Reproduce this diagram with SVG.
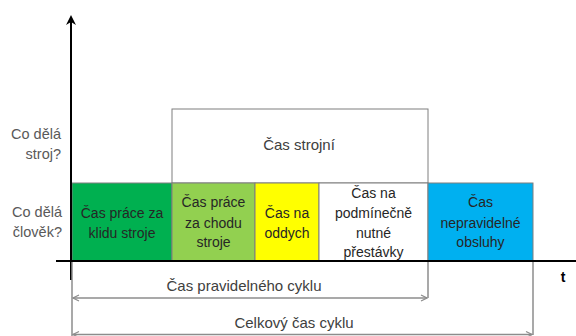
<svg xmlns="http://www.w3.org/2000/svg" width="576" height="336" viewBox="0 0 576 336">
<style>
.lbl{font-family:"Liberation Sans",Arial,sans-serif;font-size:14.5px;fill:#595959}
.bt{font-family:"Liberation Sans",Arial,sans-serif;font-size:14px;fill:#262626;text-anchor:middle}
.dt{font-family:"Liberation Sans",Arial,sans-serif;font-size:15px;fill:#404040;text-anchor:middle}
.box{stroke:#7f7f7f;stroke-width:1}
.dim{stroke:#8c8c8c;stroke-width:1.5;fill:none}
</style>
<defs>
<marker id="ah" viewBox="0 0 10 10" refX="9" refY="5" markerWidth="5" markerHeight="5" orient="auto-start-reverse" markerUnits="strokeWidth">
<path d="M1,1 L9,5 L1,9" fill="none" stroke="#8c8c8c" stroke-width="1.5"/>
</marker>
<marker id="axh" viewBox="0 0 10 10" refX="8" refY="5" markerWidth="5" markerHeight="5" orient="auto" markerUnits="strokeWidth">
<path d="M0,0 L10,5 L0,10 L3,5 Z" fill="#000"/>
</marker>
</defs>
<g id="labels">
<text class="lbl" x="61" y="139" text-anchor="end">Co dělá</text>
<text class="lbl" x="61" y="159" text-anchor="end">stroj?</text>
<text class="lbl" x="62" y="217" text-anchor="end">Co dělá</text>
<text class="lbl" x="62" y="237" text-anchor="end">člověk?</text>
<text x="563" y="282" font-family="Liberation Sans,Arial,sans-serif" font-size="14" font-weight="bold" fill="#000" text-anchor="middle">t</text>
</g>
<g id="machine">
<rect class="box" x="172" y="109" width="256" height="74" fill="#fff"/>
<text class="dt" x="299" y="150">Čas strojní</text>
</g>
<g id="klid">
<rect class="box" x="72" y="183" width="100" height="78" fill="#00B050"/>
<text class="bt" x="122" y="218">Čas práce za</text>
<text class="bt" x="122" y="238">klidu stroje</text>
</g>
<g id="chod">
<rect class="box" x="172" y="183" width="83" height="78" fill="#92D050"/>
<text class="bt" x="213.5" y="207">Čas práce</text>
<text class="bt" x="213.5" y="228">za chodu</text>
<text class="bt" x="213.5" y="247">stroje</text>
</g>
<g id="oddych">
<rect class="box" x="255" y="183" width="64" height="78" fill="#FFFF00"/>
<text class="bt" x="287" y="218">Čas na</text>
<text class="bt" x="287" y="238">oddych</text>
</g>
<g id="prestavky">
<rect class="box" x="319" y="183" width="109" height="78" fill="#fff"/>
<text class="bt" x="373.5" y="198" fill="#404040">Čas na</text>
<text class="bt" x="373.5" y="218" fill="#404040">podmínečně</text>
<text class="bt" x="373.5" y="238" fill="#404040">nutné</text>
<text class="bt" x="373.5" y="257" fill="#404040">přestávky</text>
</g>
<g id="obsluha">
<rect class="box" x="428" y="183" width="105" height="78" fill="#00B0F0"/>
<text class="bt" x="480.5" y="207" fill="#1f3050">Čas</text>
<text class="bt" x="480.5" y="228" fill="#1f3050">nepravidelné</text>
<text class="bt" x="480.5" y="247" fill="#1f3050">obsluhy</text>
</g>
<g id="connectors">
<line x1="71" y1="280" x2="71" y2="17" stroke="#000" stroke-width="2" marker-end="url(#axh)"/>
<line x1="56" y1="261" x2="576" y2="261" stroke="#000" stroke-width="2"/>
<line class="dim" x1="72" y1="262" x2="72" y2="336"/>
<line class="dim" x1="428" y1="262" x2="428" y2="298"/>
<line class="dim" x1="533" y1="262" x2="533" y2="335"/>
<line class="dim" x1="73" y1="298" x2="427" y2="298" marker-start="url(#ah)" marker-end="url(#ah)"/>
<line class="dim" x1="73" y1="334.5" x2="532" y2="334.5" marker-start="url(#ah)" marker-end="url(#ah)"/>
<text class="dt" x="244" y="291">Čas pravidelného cyklu</text>
<text class="dt" x="294" y="328">Celkový čas cyklu</text>
</g>
</svg>
